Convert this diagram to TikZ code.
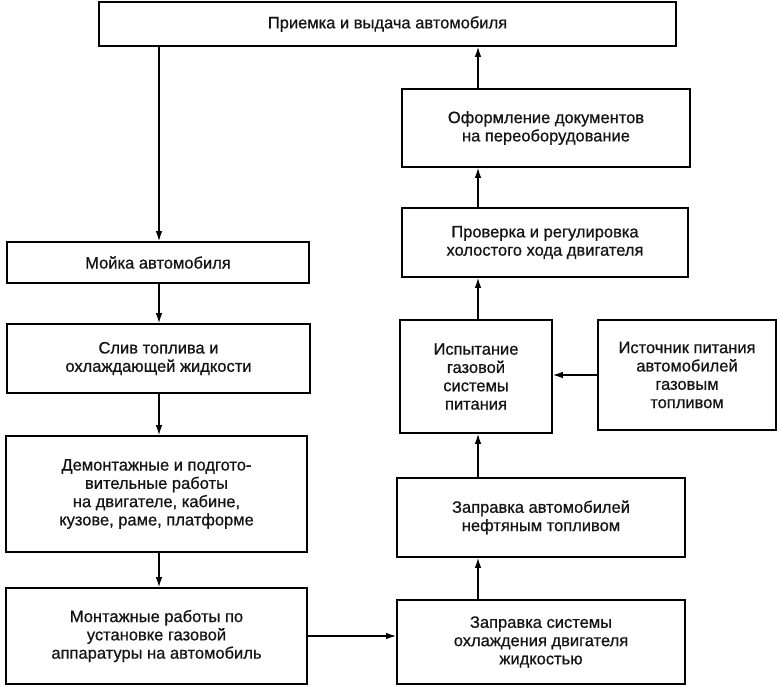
\documentclass[tikz,border=0pt]{standalone}
\usepackage{fontspec}
\setmainfont{Liberation Sans}
\newfontfamily\boxfont{Liberation Sans}[BoldFont={Liberation Sans}, BoldFeatures={FakeBold=0.7}]
\usetikzlibrary{arrows.meta}
\begin{document}
\begin{tikzpicture}[x=1pt,y=-1pt,
  box/.style={draw=black, line width=1.6pt, align=center, inner sep=0pt,
    font=\boxfont\bfseries\fontsize{16.5}{18.3}\selectfont, text=black!92},
  arr/.style={draw=black, line width=1.3pt, -{Latex[length=10pt,width=6.5pt]}}]
\useasboundingbox (0,0) rectangle (779,686);
\fill[white] (0,0) rectangle (779,686);
\node[box, minimum width=577pt, minimum height=44pt] (b1) at (387.5,24) {Приемка и выдача автомобиля};
\node[box, minimum width=288pt, minimum height=78pt] (b2) at (546,128) {Оформление документов\\на переоборудование};
\node[box, minimum width=286pt, minimum height=69pt] (b3) at (545,242.5) {Проверка и регулировка\\холостого хода двигателя};
\node[box, minimum width=152pt, minimum height=113pt] (isp) at (476,376.5) {Испытание\\газовой\\системы\\питания};
\node[box, minimum width=178pt, minimum height=110pt] (ist) at (687,375) {Источник питания\\автомобилей\\газовым\\топливом};
\node[box, minimum width=288pt, minimum height=79pt] (neft) at (541,517.5) {Заправка автомобилей\\нефтяным топливом};
\node[box, minimum width=288pt, minimum height=84pt] (sys) at (541,642) {Заправка системы\\охлаждения двигателя\\жидкостью};
\node[box, minimum width=302pt, minimum height=41pt] (moyka) at (158,262.5) {Мойка автомобиля};
\node[box, minimum width=303pt, minimum height=69pt] (sliv) at (158.5,358.5) {Слив топлива и\\охлаждающей жидкости};
\node[box, minimum width=301pt, minimum height=116pt] (dem) at (156.5,494) {Демонтажные и подгото-\\вительные работы\\на двигателе, кабине,\\кузове, раме, платформе};
\node[box, minimum width=301pt, minimum height=96pt] (mont) at (156.5,636) {Монтажные работы по\\установке газовой\\аппаратуры на автомобиль};
\coordinate (lx) at (159,0);
\coordinate (rx) at (478,0);
\draw[arr] (b1.south -| lx) -- (moyka.north -| lx);
\draw[arr] (moyka.south -| lx) -- (sliv.north -| lx);
\draw[arr] (sliv.south -| lx) -- (dem.north -| lx);
\draw[arr] (dem.south -| lx) -- (mont.north -| lx);
\draw[arr] (mont.east) -- (sys.west |- mont.east);
\draw[arr] (sys.north -| rx) -- (neft.south -| rx);
\draw[arr] (neft.north -| rx) -- (isp.south -| rx);
\draw[arr] (ist.west) -- (isp.east |- ist.west);
\draw[arr] (isp.north -| rx) -- (b3.south -| rx);
\draw[arr] (b3.north -| rx) -- (b2.south -| rx);
\draw[arr] (b2.north -| rx) -- (b1.south -| rx);
\end{tikzpicture}
\end{document}
